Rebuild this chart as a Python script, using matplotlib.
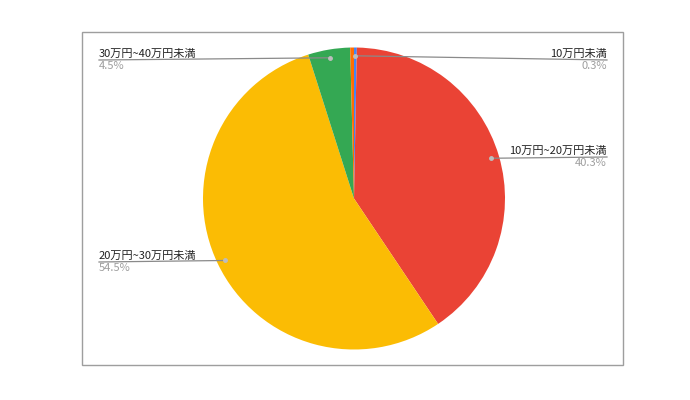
import numpy as np
import matplotlib
matplotlib.use('Agg')
import matplotlib.pyplot as plt
from matplotlib.patches import Rectangle

plt.rcParams['font.family'] = ['Noto Sans CJK JP', 'DejaVu Sans']

labels = ['10万円未満', '10万円~20万円未満', '20万円~30万円未満', '30万円~40万円未満', '']
values = [0.3, 40.3, 54.5, 4.5, 0.4]
pct_text = ['0.3%', '40.3%', '54.5%', '4.5%', '']
colors = ['#4285F4', '#EA4335', '#FBBC04', '#34A853', '#FF6D01']

W, H = 690, 400
fig = plt.figure(figsize=(6.9, 4.0), dpi=100)

# 枠
fig.patches.append(Rectangle((82 / W, 1 - 365 / H), (623 - 82) / W, (365 - 32) / H,
                             transform=fig.transFigure, fill=False, edgecolor='#9e9e9e', lw=1))

cx, cy, r = 354, 198.5, 151
ax = fig.add_axes([(cx - r) / W, 1 - (cy + r) / H, 2 * r / W, 2 * r / H])
ax.pie(values, colors=colors, startangle=90, counterclock=False,
       wedgeprops=dict(linewidth=0))
ax.set_xlim(-1, 1)
ax.set_ylim(-1, 1)
ax.axis('off')

# ラベル位置 (pixel): 左右, テキスト端x, 線のy
label_pos = {0: ('right', 607, 60), 1: ('right', 607, 157), 2: ('left', 99, 262), 3: ('left', 99, 60)}

total = sum(values)
cum = 0
for i, v in enumerate(values):
    mid = (cum + v / 2) / total * 360
    cum += v
    if i not in label_pos:
        continue
    side, tx, ly = label_pos[i]
    ang = np.deg2rad(mid)
    dx = cx + 0.945 * r * np.sin(ang)
    dy = cy - 0.945 * r * np.cos(ang)
    fx = lambda x: x / W
    fy = lambda y: 1 - y / H
    fig.add_artist(plt.Line2D([fx(dx), fx(tx)], [fy(dy), fy(ly)], transform=fig.transFigure,
                              color='#8a8a8a', lw=0.9))
    fig.add_artist(plt.Line2D([fx(dx)], [fy(dy)], transform=fig.transFigure, marker='o',
                              ms=2.5, color='#bdbdbd', lw=0))
    ha = 'right' if side == 'right' else 'left'
    fig.text(fx(tx), fy(ly - 1.5), labels[i], ha=ha, va='bottom', fontsize=8, color='#222222')
    fig.text(fx(tx), fy(ly + 1), pct_text[i], ha=ha, va='top', fontsize=8, color='#9e9e9e')

fig.savefig('out.png', dpi=100, facecolor='white')
